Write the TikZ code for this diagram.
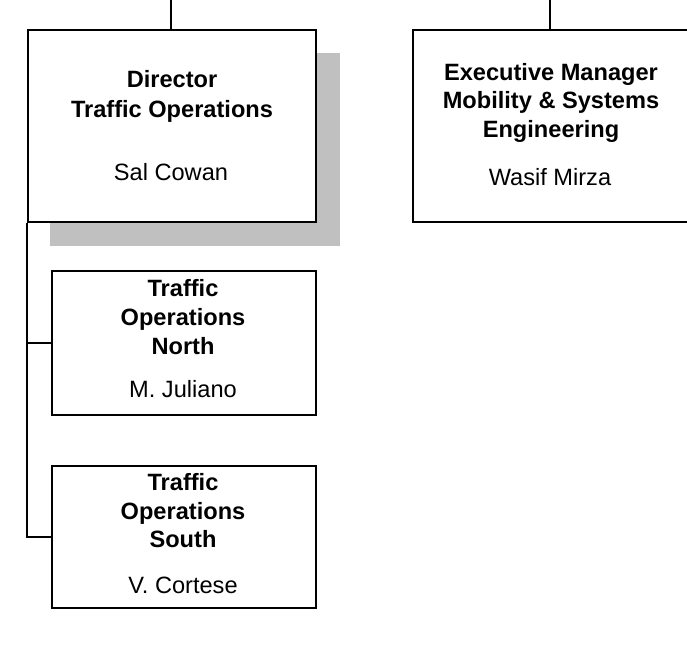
\documentclass[tikz,border=0pt]{standalone}
\usepackage{fontspec}
\setmainfont{Liberation Sans}
\definecolor{shadowgray}{HTML}{C0C0C0}
\begin{document}
\begin{tikzpicture}[x=1pt,y=-1pt,
  box/.style={draw=black, line width=1.8pt, fill=white, rectangle, inner sep=0pt, anchor=north west},
  ttl/.style={font=\fontsize{23.6}{29}\selectfont\bfseries, anchor=base, inner sep=0pt},
  nm/.style={font=\fontsize{23.6}{29}\selectfont, anchor=base, inner sep=0pt},
  conn/.style={line width=1.4pt, draw=black}]
\useasboundingbox (0,0) rectangle (687,646);
% shadow
\fill[shadowgray] (50,53) rectangle (340,246);
% boxes
\node[box, minimum width=288pt, minimum height=192pt] (dir) at (27,29) {};
\node[box, minimum width=280pt, minimum height=192pt] (exe) at (412,29) {};
\node[box, minimum width=264pt, minimum height=144pt] (nor) at (51,270) {};
\node[box, minimum width=264pt, minimum height=142pt] (sou) at (51,465) {};
% top connectors
\coordinate (topd) at (171,0);
\coordinate (tope) at (550,0);
\draw[conn] (topd) -- (topd |- dir.north);
\draw[conn] (tope) -- (tope |- exe.north);
% side connectors
\draw[conn] (dir.south west) |- (nor.west);
\draw[conn] (dir.south west) |- (sou.west);
% texts
\node[ttl] (d1) at (172,87) {Director};
\node[ttl] (d2) at (172,117) {Traffic Operations};
\node[nm]  (d3) at (171,180) {Sal Cowan};
\node[ttl] (e1) at (551,80) {Executive Manager};
\node[ttl] (e2) at (551,108) {Mobility \& Systems};
\node[ttl] (e3) at (551,137) {Engineering};
\node[nm]  (e4) at (550,185) {Wasif Mirza};
\node[ttl] (n1) at (183,296) {Traffic};
\node[ttl] (n2) at (183,325) {Operations};
\node[ttl] (n3) at (183,354) {North};
\node[nm]  (n4) at (183,397) {M. Juliano};
\node[ttl] (s1) at (183,490) {Traffic};
\node[ttl] (s2) at (183,519) {Operations};
\node[ttl] (s3) at (183,547) {South};
\node[nm]  (s4) at (183,593) {V. Cortese};
\end{tikzpicture}
\end{document}
